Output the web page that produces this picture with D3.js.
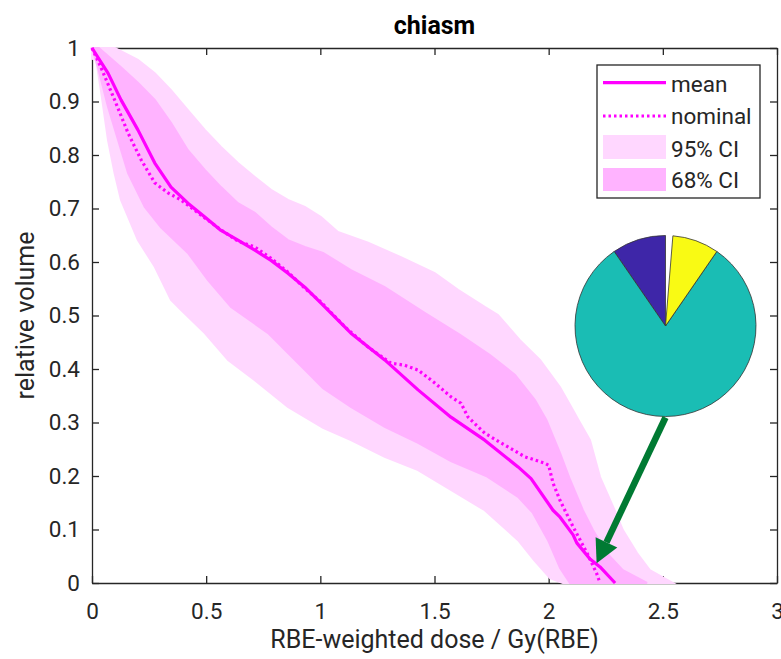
<!DOCTYPE html>
<html>
<head>
<meta charset="utf-8">
<script src="https://cdn.jsdelivr.net/npm/d3@7"></script>
<style>
  html, body { margin: 0; padding: 0; background: #fff; }
  svg { display: block; font-family: Roboto, "Noto Sans", sans-serif; }
</style>
</head>
<body>
<svg id="chart" width="781" height="659"></svg>
<script>
// Dose-volume histogram for the chiasm: mean, nominal and confidence bands
const xTicks = [0, 0.5, 1, 1.5, 2, 2.5, 3];
const xTickLabels = ["0", "0.5", "1", "1.5", "2", "2.5", "3"];
const yTicks = [0, 0.1, 0.2, 0.3, 0.4, 0.5, 0.6, 0.7, 0.8, 0.9, 1];
const yTickLabels = ["0", "0.1", "0.2", "0.3", "0.4", "0.5", "0.6", "0.7", "0.8", "0.9", "1"];

const meanDose = [0, 0.07, 0.127, 0.201, 0.275, 0.346, 0.42, 0.494, 0.565, 0.639, 0.713, 0.784, 0.858, 0.932, 1.003, 1.134, 1.282, 1.428, 1.572, 1.72, 1.866, 1.923, 2.019, 2.05, 2.107, 2.123, 2.181, 2.225, 2.291];
const meanVol  = [1, 0.953, 0.903, 0.847, 0.785, 0.74, 0.71, 0.684, 0.659, 0.641, 0.622, 0.603, 0.579, 0.553, 0.523, 0.467, 0.417, 0.361, 0.31, 0.267, 0.217, 0.195, 0.136, 0.123, 0.09, 0.075, 0.045, 0.03, 0];

const nominalDose = [0, 0.039, 0.099, 0.158, 0.215, 0.275, 0.333, 0.39, 0.464, 0.565, 0.639, 0.713, 0.784, 0.858, 0.932, 1.003, 1.107, 1.209, 1.309, 1.37, 1.428, 1.501, 1.572, 1.616, 1.647, 1.72, 1.791, 1.895, 1.983, 2.0, 2.019, 2.049, 2.107, 2.168, 2.21, 2.225];
const nominalVol  = [1, 0.964, 0.903, 0.841, 0.791, 0.748, 0.729, 0.716, 0.692, 0.66, 0.639, 0.628, 0.607, 0.581, 0.551, 0.525, 0.479, 0.441, 0.411, 0.407, 0.398, 0.374, 0.348, 0.336, 0.31, 0.28, 0.262, 0.236, 0.224, 0.22, 0.187, 0.155, 0.105, 0.056, 0.018, 0];

const ci95UpperDose = [0, 0.1, 0.201, 0.275, 0.346, 0.42, 0.494, 0.565, 0.639, 0.713, 0.784, 0.858, 0.932, 1.003, 1.077, 1.209, 1.353, 1.501, 1.603, 1.72, 1.778, 1.874, 1.962, 2.05, 2.107, 2.13, 2.181, 2.225, 2.283, 2.325, 2.387, 2.443, 2.544];
const ci95UpperVol  = [1, 1, 0.978, 0.953, 0.921, 0.884, 0.847, 0.815, 0.785, 0.759, 0.735, 0.716, 0.703, 0.684, 0.656, 0.636, 0.609, 0.579, 0.548, 0.516, 0.501, 0.454, 0.417, 0.366, 0.323, 0.305, 0.267, 0.198, 0.142, 0.099, 0.056, 0.024, 0];
const ci95LowerDose = [0, 0.018, 0.039, 0.07, 0.099, 0.127, 0.201, 0.275, 0.346, 0.39, 0.494, 0.596, 0.713, 0.858, 1.012, 1.134, 1.282, 1.428, 1.572, 1.72, 1.866, 1.936, 2.006, 2.062];
const ci95LowerVol  = [0.98, 0.978, 0.921, 0.828, 0.766, 0.716, 0.641, 0.591, 0.529, 0.51, 0.467, 0.417, 0.379, 0.329, 0.29, 0.267, 0.236, 0.211, 0.174, 0.136, 0.08, 0.043, 0.009, 0];

const ci68UpperDose = [0, 0.03, 0.127, 0.201, 0.275, 0.346, 0.42, 0.494, 0.565, 0.639, 0.713, 0.784, 0.858, 0.932, 1.012, 1.134, 1.282, 1.457, 1.612, 1.743, 1.853, 1.94, 1.99, 2.05, 2.094, 2.15, 2.194, 2.254, 2.325, 2.431];
const ci68UpperVol  = [1, 1, 0.964, 0.935, 0.903, 0.86, 0.809, 0.772, 0.74, 0.71, 0.692, 0.665, 0.641, 0.628, 0.617, 0.585, 0.553, 0.505, 0.464, 0.426, 0.389, 0.342, 0.305, 0.243, 0.193, 0.136, 0.099, 0.056, 0.024, 0];
const ci68LowerDose = [0, 0.026, 0.07, 0.114, 0.158, 0.231, 0.302, 0.42, 0.508, 0.609, 0.771, 0.888, 1.012, 1.134, 1.282, 1.428, 1.572, 1.726, 1.866, 1.931, 1.997, 2.05, 2.093];
const ci68LowerVol  = [1, 0.964, 0.89, 0.828, 0.766, 0.703, 0.665, 0.617, 0.566, 0.516, 0.467, 0.417, 0.364, 0.329, 0.292, 0.262, 0.228, 0.2, 0.161, 0.131, 0.08, 0.028, 0];

// Share of outcomes shown in the inset pie (drawn counter-clockwise from the top)
const pieShares = [0.096, 0.808, 0.083];
const pieColors = ["#3e26a8", "#1abdb4", "#f9fa14"];

// Point on the mean curve that the annotation arrow marks
const arrowTipDose = 2.21, arrowTipVol = 0.037;

const legendLabels = ["mean", "nominal", "95% CI", "68% CI"];

const colMean = "#ff00ff";
const col95 = "#ffd7ff";
const col68 = "#ffb3ff";
const axisCol = "#262626";
const tickFont = 22.5, labelFont = 25;

const svg = d3.select("#chart");
const plot = { left: 92, right: 777, top: 48, bottom: 583 };

const x = d3.scaleLinear().domain([0, 3]).range([plot.left, plot.right]);
const y = d3.scaleLinear().domain([0, 1]).range([plot.bottom, plot.top]);

const pts = (xs, ys) => xs.map((d, i) => [d, ys[i]]);
const line = d3.line().x(d => x(d[0])).y(d => y(d[1]));

// Axes (box with inward ticks on all four sides)
const tickLen = 7;
const axB = svg.append("g").attr("transform", `translate(0,${plot.bottom})`)
  .call(d3.axisBottom(x).tickValues(xTicks).tickFormat((d, i) => xTickLabels[i]).tickSizeInner(-tickLen).tickSizeOuter(0).tickPadding(20));
const axT = svg.append("g").attr("transform", `translate(0,${plot.top})`)
  .call(d3.axisTop(x).tickValues(xTicks).tickFormat("").tickSizeInner(-tickLen).tickSizeOuter(0));
const axL = svg.append("g").attr("transform", `translate(${plot.left},0)`)
  .call(d3.axisLeft(y).tickValues(yTicks).tickFormat((d, i) => yTickLabels[i]).tickSizeInner(-tickLen).tickSizeOuter(0).tickPadding(12));
const axR = svg.append("g").attr("transform", `translate(${plot.right},0)`)
  .call(d3.axisRight(y).tickValues(yTicks).tickFormat("").tickSizeInner(-tickLen).tickSizeOuter(0));

[axB, axT, axL, axR].forEach(g => {
  g.select(".domain").attr("stroke", axisCol).attr("stroke-width", 1.3);
  g.selectAll(".tick line").attr("stroke", axisCol).attr("stroke-width", 1.3);
  g.selectAll(".tick text").attr("fill", axisCol).attr("font-size", tickFont).attr("font-family", "Roboto, sans-serif");
});

// Confidence bands (edge stroke in the fill colour so they sit over the axis lines)
const band = (ux, uy, lx, ly) => line(pts(ux, uy).concat(pts(lx, ly).reverse())) + "Z";
svg.append("path").attr("d", band(ci95UpperDose, ci95UpperVol, ci95LowerDose, ci95LowerVol))
  .attr("fill", col95).attr("stroke", col95).attr("stroke-width", 2);
svg.append("path").attr("d", band(ci68UpperDose, ci68UpperVol, ci68LowerDose, ci68LowerVol))
  .attr("fill", col68).attr("stroke", col68).attr("stroke-width", 2);

// Mean and nominal curves
svg.append("path").attr("d", line(pts(meanDose, meanVol)))
  .attr("fill", "none").attr("stroke", colMean).attr("stroke-width", 3.2).attr("stroke-linejoin", "round");
svg.append("path").attr("d", line(pts(nominalDose, nominalVol)))
  .attr("fill", "none").attr("stroke", colMean).attr("stroke-width", 3.2).attr("stroke-dasharray", "2.5,3");

// Title and axis labels
svg.append("text").attr("x", (plot.left + plot.right) / 2).attr("y", 34)
  .attr("text-anchor", "middle").attr("font-size", labelFont).attr("font-weight", "bold").attr("fill", "#000")
  .text("chiasm");
svg.append("text").attr("x", (plot.left + plot.right) / 2).attr("y", 648)
  .attr("text-anchor", "middle").attr("font-size", labelFont).attr("fill", axisCol)
  .text("RBE-weighted dose / Gy(RBE)");
svg.append("text").attr("transform", `translate(34,${(plot.top + plot.bottom) / 2}) rotate(-90)`)
  .attr("text-anchor", "middle").attr("font-size", labelFont).attr("fill", axisCol)
  .text("relative volume");

// Legend
const lg = svg.append("g").attr("transform", "translate(597,65)");
lg.append("rect").attr("width", 163).attr("height", 133).attr("fill", "#fff")
  .attr("stroke", axisCol).attr("stroke-width", 1.3);
const rowY = [17.7, 51, 82, 114.5];
const rowBase = [27.3, 59.3, 92, 123.3];
lg.append("line").attr("x1", 6).attr("x2", 69).attr("y1", rowY[0]).attr("y2", rowY[0])
  .attr("stroke", colMean).attr("stroke-width", 3.2);
lg.append("line").attr("x1", 6).attr("x2", 69).attr("y1", rowY[1]).attr("y2", rowY[1])
  .attr("stroke", colMean).attr("stroke-width", 3.2).attr("stroke-dasharray", "2.5,3");
lg.append("rect").attr("x", 6).attr("y", 70).attr("width", 63).attr("height", 24).attr("fill", col95);
lg.append("rect").attr("x", 6).attr("y", 103).attr("width", 63).attr("height", 23).attr("fill", col68);
lg.selectAll("text.lbl").data(legendLabels).join("text").attr("class", "lbl")
  .attr("x", 74).attr("y", (d, i) => rowBase[i])
  .attr("font-size", tickFont).attr("fill", axisCol).text(d => d);

// Inset pie
const pieCx = 665.5, pieCy = 326, pieR = 90.5;
const total = d3.sum(pieShares);
const arcs = d3.pie().sort(null).startAngle(0).endAngle(-2 * Math.PI * total)(pieShares);
const arc = d3.arc().innerRadius(0).outerRadius(pieR);
svg.append("g").attr("transform", `translate(${pieCx},${pieCy})`)
  .selectAll("path").data(arcs).join("path")
  .attr("d", arc).attr("fill", (d, i) => pieColors[i])
  .attr("stroke", "#333").attr("stroke-width", 0.8).attr("stroke-linejoin", "round");

// Arrow from the pie to the mean curve
const green = "#007a33";
const tail = [665.5, pieCy + pieR + 1];
const tip = [x(arrowTipDose), y(arrowTipVol)];
const ang = Math.atan2(tip[1] - tail[1], tip[0] - tail[0]);
const headLen = 23, headHalf = 12;
const base = [tip[0] - headLen * Math.cos(ang), tip[1] - headLen * Math.sin(ang)];
svg.append("line").attr("x1", tail[0]).attr("y1", tail[1]).attr("x2", base[0]).attr("y2", base[1])
  .attr("stroke", green).attr("stroke-width", 6.5);
const nx = -Math.sin(ang), ny = Math.cos(ang);
svg.append("path")
  .attr("d", `M${tip[0]},${tip[1]}L${base[0] + nx * headHalf},${base[1] + ny * headHalf}L${base[0] - nx * headHalf},${base[1] - ny * headHalf}Z`)
  .attr("fill", green);
</script>
</body>
</html>
